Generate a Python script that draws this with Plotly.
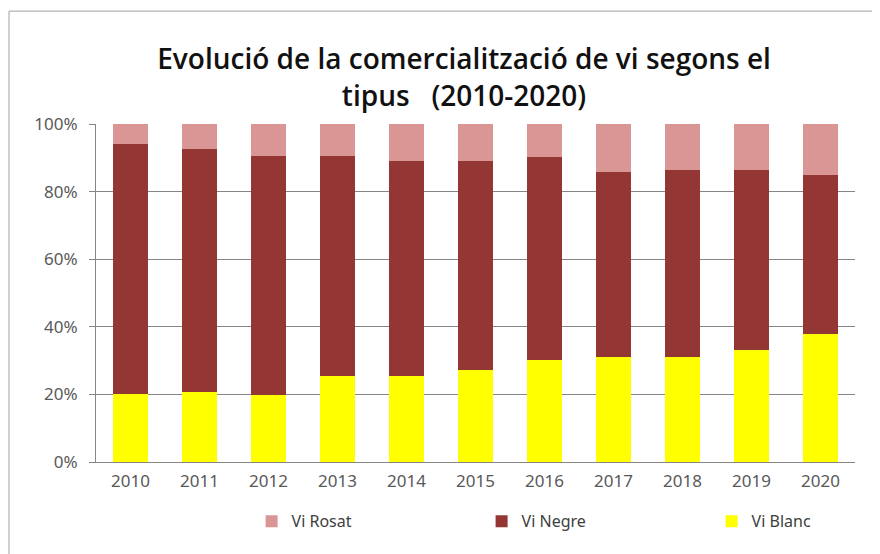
import plotly.graph_objects as go

# Share of each wine type (%)
years = ['2010', '2011', '2012', '2013', '2014', '2015', '2016', '2017', '2018', '2019', '2020']
vi_blanc = [20.1, 20.6, 19.7, 25.4, 25.4, 27.3, 30.1, 31.1, 31.1, 33.0, 37.8]
vi_negre = [73.9, 71.9, 70.9, 65.2, 63.8, 61.9, 60.0, 54.7, 55.2, 53.3, 47.1]
vi_rosat = [6.0, 7.5, 9.4, 9.4, 10.8, 10.8, 9.9, 14.2, 13.7, 13.7, 15.1]

fig = go.Figure()
fig.add_trace(go.Bar(x=years, y=vi_blanc, name='Vi Blanc', marker_color='#FFFF00', marker_line_width=0))
fig.add_trace(go.Bar(x=years, y=vi_negre, name='Vi Negre', marker_color='#943634', marker_line_width=0))
fig.add_trace(go.Bar(x=years, y=vi_rosat, name='Vi Rosat', marker_color='#D99694', marker_line_width=0))

# page has an 8px body margin, so the figure is sized to the visible area
fig.update_layout(
    barmode='stack',
    bargap=0.49,
    width=872,
    height=546,
    margin=dict(l=88, r=25, t=116, b=92, autoexpand=False),
    paper_bgcolor='white',
    plot_bgcolor='white',
    title=dict(
        text='Evolució de la comercialització de vi segons el<br>tipus   (2010-2020)',
        font=dict(family='Open Sans', size=28, color='#111111', weight=600),
        x=0.523, xanchor='center', y=0.888, yanchor='top',
    ),
    font=dict(family='Noto Sans', size=17, color='#595959'),
    legend=dict(
        orientation='h', x=0.205, xanchor='left', y=-0.125, yanchor='top',
        traceorder='reversed', entrywidth=185, bgcolor='rgba(0,0,0,0)',
        font=dict(size=16, color='#404040'),
    ),
    showlegend=True,
)
fig.update_xaxes(showline=True, linecolor='#868686', linewidth=1, ticks='', showgrid=False,
                 ticklabelstandoff=4)
fig.update_yaxes(
    range=[0, 100], tickvals=[0, 20, 40, 60, 80, 100],
    ticktext=['0%', '20%', '40%', '60%', '80%', '100%'],
    showgrid=True, gridcolor='#868686', gridwidth=1,
    showline=True, linecolor='#868686', linewidth=1,
    ticks='outside', ticklen=6, tickcolor='#868686', zeroline=False,
    ticklabelstandoff=8,
)
fig.add_shape(type='rect', xref='paper', yref='paper', x0=-0.1146, x1=1.2, y0=-0.5, y1=1.334,
              line=dict(color='#A0A0A0', width=1), fillcolor='rgba(0,0,0,0)', layer='below')

fig.write_html('out.html')
